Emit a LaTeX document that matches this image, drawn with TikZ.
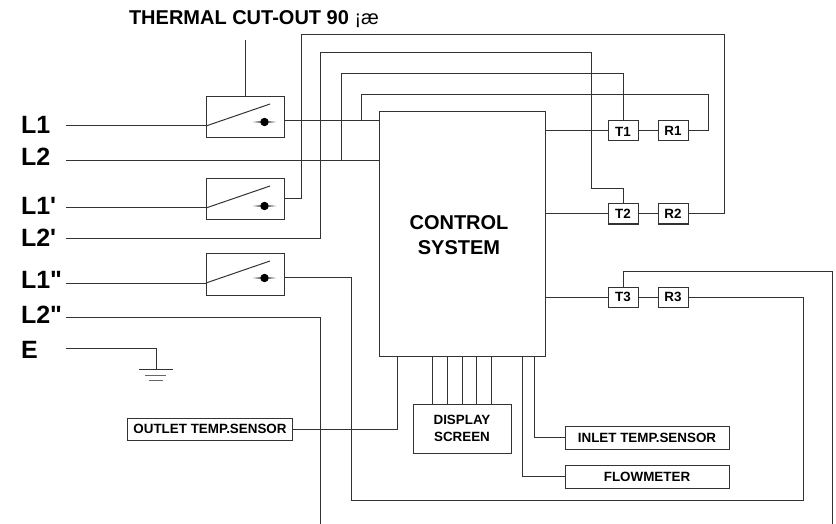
\documentclass[tikz,border=0pt]{standalone}
\usepackage{fontspec}
\newfontfamily\diagfont{Liberation Sans}
\begin{document}
\begin{tikzpicture}
	[x=1pt,y=-1pt,line width=1pt,color=black!80,
	every node/.style={inner sep=0pt,outer sep=0pt,text=black,font=\diagfont\bfseries},
	box/.style={draw,minimum width=#1},
	small/.style={font=\diagfont\bfseries\fontsize{13.4}{17}\selectfont,align=center},
	big/.style={font=\diagfont\bfseries\fontsize{20}{24.5}\selectfont,align=center},
	line/.style={font=\diagfont\bfseries\fontsize{25}{28}\selectfont,anchor=west}]
	\useasboundingbox (0,0) rectangle (836,524);

	\node[line] (l1) at (21,125) {L1};
	\node[line] (l2) at (21,157) {L2};
	\node[line] (l1a) at (21,206) {L1'};
	\node[line] (l2a) at (21,238) {L2'};
	\node[line] (l1b) at (21,280) {L1"};
	\node[line] (l2b) at (21,315) {L2"};
	\node[line] (e) at (21,350) {E};
	\node[big,anchor=west] (thermal) at (129,19) {THERMAL CUT-OUT 90 {\mdseries ¡æ}};

	\node[box=166pt,minimum height=244pt,big] (ctrl) at (462,234) {};
	\node[big] (ctrltext) at (459,235) {CONTROL\\SYSTEM};
	\node[box=78pt,minimum height=41pt] (sw1) at (245,117.5) {};
	\node[box=78pt,minimum height=41pt] (sw2) at (245,199.5) {};
	\node[box=78pt,minimum height=42pt] (sw3) at (245,274) {};

	\foreach \n/\x/\y in {t1/623/131,r1/673/131,t2/623/214,r2/673/214,t3/623/297,r3/673/297}
	\node[box=30pt,minimum height=20pt] (\n) at (\x,\y) {};
	\node[small] at (623,132) {T1};
	\node[small] at (673,131) {R1};
	\node[small] at (623,214) {T2};
	\node[small] at (673,214) {R2};
	\node[small] at (623,297) {T3};
	\node[small] at (673,297) {R3};

	\node[box=165pt,minimum height=22pt,small] (outlet) at (210,429) {OUTLET TEMP.SENSOR};
	\node[box=98pt,minimum height=49pt,small] (display) at (462,428.5) {DISPLAY\\SCREEN};
	\node[box=164pt,minimum height=23pt,small] (inlet) at (647,437.5) {INLET TEMP.SENSOR};
	\node[box=164pt,minimum height=23pt,small] (flow) at (647,476.5) {FLOWMETER};

	% switch blades and contacts
	\foreach \n/\a/\b/\d in {sw1/126/104/122,sw2/208/186/206,sw3/283/261/278}{
		\coordinate (\n i) at (206,\a);
		\coordinate (\n t) at (270,\b);
		\coordinate (\n d) at (264.5,\d);
		\draw (\n i) -- (\n t);
		\fill[black!50] ([xshift=-12pt]\n d) -- ([shift={(0pt,-1.6pt)}]\n d) -- ([xshift=12pt]\n d) -- ([shift={(0pt,1.6pt)}]\n d) -- cycle;
		\fill[black] (\n d) circle (4.2pt);
	}

	% mains wiring
	\coordinate (a1) at (66,126);
	\coordinate (a2) at (66,160.5);
	\coordinate (a3) at (66,208);
	\coordinate (a4) at (66,238.5);
	\coordinate (a5) at (66,283);
	\coordinate (a6) at (66,317);
	\coordinate (a7) at (66,348);
	\foreach \from/\to in {a1/sw1i,a3/sw2i,a5/sw3i}
	\draw (\from) -- (\to);
	\coordinate (c1) at (379,121);
	\coordinate (c2) at (379,160.5);
	\coordinate (o1) at (284,121);
	\coordinate (o2) at (284,199);
	\coordinate (o3) at (284,277);
	\draw (o1) -- (c1);
	\draw (a2) -- (c2);
	\coordinate (j1) at (361,121);
	\coordinate (j2) at (341,160.5);

	% heater loops
	\coordinate (r1o) at (688,131);
	\coordinate (r2o) at (688,214);
	\coordinate (r3o) at (688,297);
	\draw (j1) |- (708,95) |- (r1o);
	\draw (j2) |- (623,74) -- (t1.north);
	\draw (o2) -| (301,35) -| (724,214) -- (r2o);
	\draw (a4) -| (320,53) -| (591,189) -| (t2.north);
	\draw (t3.north) |- (832.5,271) -- (832.5,524);
	\draw (r3o) -| (803,500.5) -| (351,277) -- (o3);
	\draw (a6) -| (320,524);
	\foreach \y/\n in {131/t1,214/t2,297/t3}
	\draw (545,\y) -- (\n.west);
	\foreach \from/\to in {t1/r1,t2/r2,t3/r3}
	\draw (\from) -- (\to);

	% earth
	\coordinate (gnd) at (156,369.5);
	\draw (a7) -| (gnd);
	\draw (139,369.5) -- (173,369.5);
	\draw[black!60] (145,375) -- (166,375);
	\draw[black!60] (148.5,380) -- (163,380);

	% thermal lead
	\draw (245,40) -- (sw1.north);

	% sensors and screen
	\draw (outlet.east) -| (397,355.8);
	\draw (inlet.west) -| (534,355.8);
	\draw (flow.west) -| (522.7,355.8);
	\foreach \x in {432.7,447.5,462,476.5,491}
	\draw (\x,355.8) -- (\x,404);
\end{tikzpicture}
\end{document}
